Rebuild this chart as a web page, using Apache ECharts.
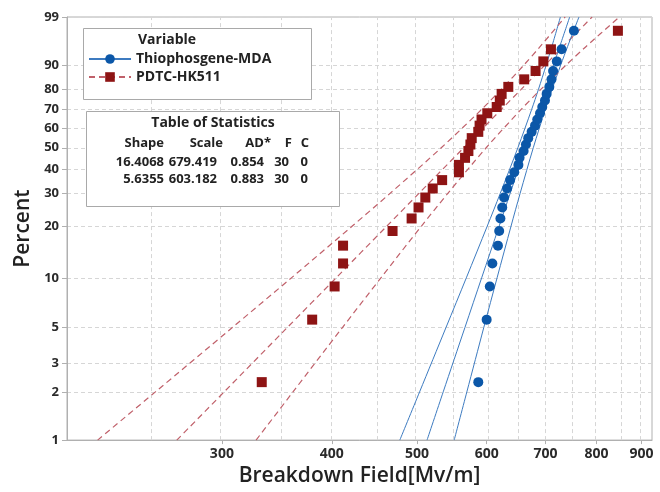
<!DOCTYPE html>
<html><head><meta charset="utf-8">
<script src="https://cdn.jsdelivr.net/npm/echarts@6/dist/echarts.min.js"></script>
<style>html,body{margin:0;padding:0;background:#fff}#c{width:660px;height:492px}</style>
</head><body><div id="c"></div>
<script>
// ---- data ----
const percentRanks = [2.30,5.59,8.88,12.17,15.46,18.75,22.04,25.33,28.62,31.91,35.20,38.49,41.78,45.07,48.36,51.64,54.93,58.22,61.51,64.80,68.09,71.38,74.67,77.96,81.25,84.54,87.83,91.12,94.41,97.70];
const thioField = [587,600,605,609,618,620,622,625,628,633,638,645,652,654,661,665,669,675,681,685,690,694,699,702,707,711,714,721,730,754];
const pdtcField = [333,380,403,412,412,469,493,502,511,521,534,558,558,567,572,575,577,587,589,592,601,616,621,624,635,662,682,696,710,846];
const bandPercent = [1,2,5,10,20,30,50,70,80,90,95,99];
const thioFit = [513.3,535.5,566.8,592.2,620.0,637.9,664.3,687.0,699.3,714.8,726.4,745.7];
const thioLower = [478.0,503.4,539.4,568.9,601.0,621.6,651.1,674.9,687.0,701.3,711.6,727.8];
const thioUpper = [551.1,569.7,595.5,616.6,639.6,654.8,677.9,699.4,711.9,728.5,741.5,764.0];
const pdtcFit = [266.6,301.8,356.0,404.6,462.1,502.2,565.1,623.2,656.3,699.3,732.7,790.8];
const pdtcLower = [216.7,252.1,308.3,359.9,422.1,465.6,532.8,591.8,623.1,661.7,690.0,736.8];
const pdtcUpper = [328.1,361.4,411.3,454.9,505.9,541.7,599.3,656.3,691.0,739.0,778.0,849.1];
const xTickLabels = [300,400,500,600,700,800,900];
const xGridValues = [250,300,350,400,450,500,550,600,650,700,750,800,850,900];
const yTickLabels = [1,2,3,5,10,20,30,40,50,60,70,80,90,99];
const xRange = [200, 925];
const seriesNames = ['Thiophosgene-MDA','PDTC-HK511'];
const statsTitle = 'Table of Statistics';
const statsHeader = ['Shape','Scale','AD*','F','C'];
const statsRows = [['16.4068','679.419','0.854','30','0'],['5.6355','603.182','0.883','30','0']];

// ---- scale transforms (log x, Weibull probability y) ----
const tx = v => Math.log(v);
const ty = p => Math.log(-Math.log(1 - p / 100));
const invX = v => Math.exp(v);
const invY = w => 100 * (1 - Math.exp(-Math.exp(w)));

const FONT = '"Open Sans", "DejaVu Sans", sans-serif';
const BLUE = '#0B57A8', BLUE_LINE = '#3D7BC0';
const RED = '#8E1414', RED_LINE = '#C0606A';
const GRID_C = '#d6d6d6', AXIS_C = '#b0b0b0';

const pts = (xs, ps) => xs.map((x, i) => [tx(x), ty(ps[i])]);

const chart = echarts.init(document.getElementById('c'), null, {renderer: 'canvas'});

const lineBase = (name, xs, color, dashed) => ({
  type: 'line', name, data: pts(xs, bandPercent), smooth: 0.3,
  showSymbol: false, symbol: dashed ? 'rect' : 'circle', symbolSize: 10,
  lineStyle: {color, width: dashed ? 1.2 : 1, type: dashed ? [6, 4] : 'solid'},
  itemStyle: {color: dashed ? RED : BLUE, opacity: 1},
  emphasis: {disabled: true}, silent: true, z: 6
});

// stats table graphics
const colRightHeader = [164, 223, 271, 292, 309];
const colRightRow = [164, 217, 264, 289, 308];
const tableFont = 'bold 13px ' + FONT;
const graphics = [
  {type: 'rect', shape: {x: 83.5, y: 28.5, width: 228, height: 71}, style: {fill: '#fff', stroke: '#a9a9a9', lineWidth: 1}, z: 12, silent: true},
  {type: 'text', x: 138, y: 40, style: {text: 'Variable', font: 'bold 14px ' + FONT, fill: '#222', align: 'left', verticalAlign: 'middle'}, z: 13, silent: true},
  {type: 'rect', shape: {x: 86.5, y: 111.5, width: 253, height: 95}, style: {fill: '#fff', stroke: '#a9a9a9', lineWidth: 1}, z: 12, silent: true},
  {type: 'text', x: 213, y: 123, style: {text: statsTitle, font: 'bold 14px ' + FONT, fill: '#222', align: 'center', verticalAlign: 'middle'}, z: 13, silent: true}
];
statsHeader.forEach((h, j) => graphics.push({type: 'text', x: colRightHeader[j], y: 143, style: {text: h, font: tableFont, fill: '#222', align: 'right', verticalAlign: 'middle'}, z: 13, silent: true}));
statsRows.forEach((row, r) => row.forEach((v, j) => graphics.push({type: 'text', x: colRightRow[j], y: 162 + r * 17, style: {text: v, font: tableFont, fill: '#222', align: 'right', verticalAlign: 'middle'}, z: 13, silent: true})));

const option = {
  animation: false,
  backgroundColor: '#fff',
  grid: {left: 67, right: 8, top: 17, bottom: 50, show: true, borderColor: AXIS_C, borderWidth: 1, containLabel: false},
  xAxis: {
    type: 'value', min: tx(xRange[0]), max: tx(xRange[1]),
    name: 'Breakdown Field[Mv/m]', nameLocation: 'middle', nameGap: 18,
    nameTextStyle: {fontSize: 21, fontWeight: 600, color: '#222', fontFamily: FONT},
    axisLine: {show: true, onZero: false, lineStyle: {color: AXIS_C}},
    axisTick: {show: true, length: 4, lineStyle: {color: AXIS_C}, customValues: xTickLabels.map(tx)},
    axisLabel: {customValues: xTickLabels.map(tx), formatter: v => String(Math.round(invX(v))), fontSize: 14, fontWeight: 'bold', color: '#2a2a2a', fontFamily: FONT, margin: 7},
    splitLine: {show: false}
  },
  yAxis: {
    type: 'value', min: ty(yTickLabels[0]), max: ty(yTickLabels[yTickLabels.length - 1]),
    name: 'Percent', nameLocation: 'middle', nameGap: 33,
    nameTextStyle: {fontSize: 21, fontWeight: 600, color: '#222', fontFamily: FONT},
    axisLine: {show: true, onZero: false, lineStyle: {color: AXIS_C}},
    axisTick: {show: true, length: 5, lineStyle: {color: AXIS_C}, customValues: yTickLabels.map(ty)},
    axisLabel: {customValues: yTickLabels.map(ty), formatter: v => String(Math.round(invY(v))), fontSize: 13, fontWeight: 'bold', color: '#2a2a2a', fontFamily: FONT, margin: 8},
    splitLine: {show: true, lineStyle: {color: GRID_C, type: [4, 3], width: 1}}
  },
  legend: {
    data: seriesNames, orient: 'vertical', left: 88, top: 51, padding: 0, itemGap: 2,
    itemWidth: 42, itemHeight: 12, selectedMode: false, z: 20,
    textStyle: {fontSize: 14, fontWeight: 'bold', color: '#222', fontFamily: FONT, lineHeight: 16}
  },
  graphic: graphics,
  series: [
    lineBase(seriesNames[0], thioFit, BLUE_LINE, false),
    lineBase(seriesNames[1], pdtcFit, RED_LINE, true),
    lineBase('Thiophosgene-MDA lower', thioLower, BLUE_LINE, false),
    lineBase('Thiophosgene-MDA upper', thioUpper, BLUE_LINE, false),
    lineBase('PDTC-HK511 lower', pdtcLower, RED_LINE, true),
    lineBase('PDTC-HK511 upper', pdtcUpper, RED_LINE, true),
    {type: 'scatter', name: seriesNames[0], data: pts(thioField, percentRanks), symbol: 'circle', symbolSize: 10, itemStyle: {color: BLUE, opacity: 1}, z: 9, silent: true},
    {type: 'scatter', name: seriesNames[1], data: pts(pdtcField, percentRanks), symbol: 'rect', symbolSize: 10, itemStyle: {color: RED, opacity: 1}, z: 8, silent: true},
    {type: 'line', name: 'x grid', data: [], z: 1, silent: true,
      markLine: {silent: true, symbol: 'none', animation: false, label: {show: false},
        lineStyle: {color: GRID_C, type: [4, 3], width: 1},
        emphasis: {disabled: true},
        data: xGridValues.map(v => ({xAxis: tx(v)}))}}
  ]
};
chart.setOption(option);
</script></body></html>
